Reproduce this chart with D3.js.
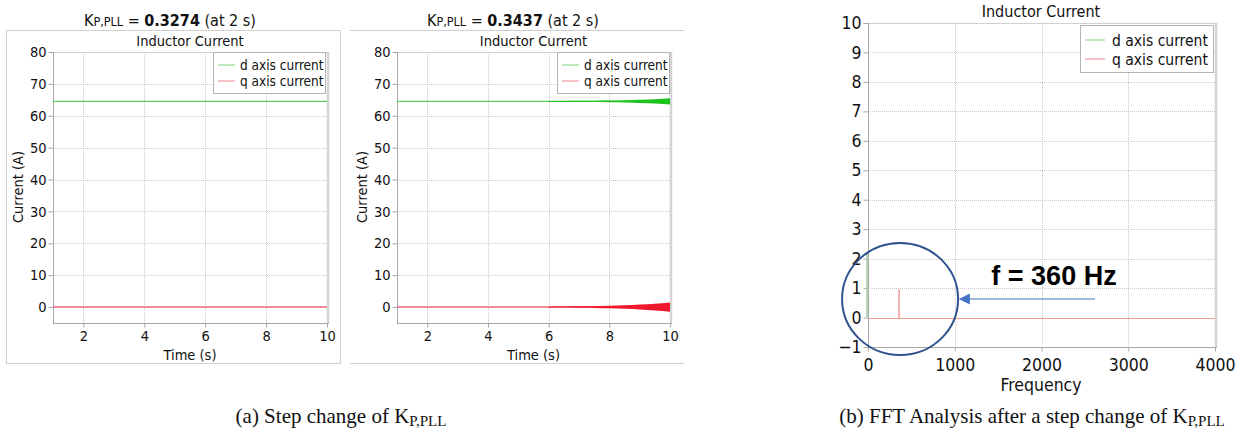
<!DOCTYPE html>
<html>
<head>
<meta charset="utf-8">
<script src="https://cdn.jsdelivr.net/npm/d3@7"></script>
<style>
  html, body { margin: 0; padding: 0; background: #ffffff; }
  svg { display: block; }
  .ui { font-family: "DejaVu Sans Condensed", "DejaVu Sans", sans-serif; font-stretch: condensed; fill: #111; }
  .cap { font-family: "Liberation Serif", "Times New Roman", serif; fill: #111; }
</style>
</head>
<body>
<svg id="chart" width="1235" height="433"></svg>
<script>
// ---- time-domain panels (inductor current in the dq frame) ----
const timeDomain = [1, 10];
const timeTicks = [2, 4, 6, 8, 10];
const currentDomain = [-5, 80];
const currentTicks = [0, 10, 20, 30, 40, 50, 60, 70, 80];
const seriesNames = ["d axis current", "q axis current"];

// steady-state levels [time, current]
const dCurrent = [[1, 64.5], [10, 64.5]];
const qCurrent = [[1, 0], [10, 0]];

// oscillation envelope (± amplitude) after the gain step, K = 0.3437
const envTime = [6, 6.5, 7, 7.5, 8, 8.5, 9, 9.5, 10];
const dEnvelope = [0, 0.01, 0.03, 0.06, 0.12, 0.2, 0.33, 0.52, 0.8];
const qEnvelope = [0, 0.02, 0.06, 0.13, 0.25, 0.4, 0.62, 0.92, 1.3];

const gainValues = ["0.3274", "0.3437"];

// ---- FFT panel ----
const freqDomain = [0, 4000];
const freqTicks = [0, 1000, 2000, 3000, 4000];
const magDomain = [-1, 10];
const magTicks = [-1, 0, 1, 2, 3, 4, 5, 6, 7, 8, 9, 10];
const dSpectrum = [[0, 2.2], [0, 0]];
const qSpectrum = [[0, 0], [357, 0], [358, 0.98], [359, 0], [4000, 0]];
const peakFrequency = 360;

const colD = "#5ccf5c", colQ = "#f06a7c";
const colDband = "#1ec41e", colQband = "#f0182c";

const svg = d3.select("#chart");

function drawPlot(cfg) {
  const g = svg.append("g");
  const x = d3.scaleLinear().domain(cfg.xDomain).range([cfg.left, cfg.right]);
  const y = d3.scaleLinear().domain(cfg.yDomain).range([cfg.bottom, cfg.top]);

  // dotted grid
  g.append("g").selectAll("line").data(cfg.yTicks).join("line")
    .attr("x1", cfg.left).attr("x2", cfg.right)
    .attr("y1", d => Math.round(y(d)) + 0.5).attr("y2", d => Math.round(y(d)) + 0.5)
    .attr("stroke", "#c8c8c8").attr("stroke-dasharray", "1,1");
  g.append("g").selectAll("line").data(cfg.xTicks).join("line")
    .attr("y1", cfg.top).attr("y2", cfg.bottom)
    .attr("x1", d => Math.round(x(d)) + 0.5).attr("x2", d => Math.round(x(d)) + 0.5)
    .attr("stroke", "#c8c8c8").attr("stroke-dasharray", "1,1");

  // top and right borders
  g.append("line").attr("x1", cfg.left).attr("x2", cfg.right)
    .attr("y1", cfg.top + 0.5).attr("y2", cfg.top + 0.5).attr("stroke", "#d0d0d0");
  g.append("line").attr("x1", cfg.right + 1).attr("x2", cfg.right + 1)
    .attr("y1", cfg.top).attr("y2", cfg.bottom).attr("stroke", "#d4d4d4").attr("stroke-width", 2.5);

  // axes
  const yAxis = d3.axisLeft(y).tickValues(cfg.yTicks).tickSize(5).tickPadding(2).tickFormat(d3.format("d"));
  const xAxis = d3.axisBottom(x).tickValues(cfg.xTicks).tickSize(4).tickPadding(cfg.xPad || 3).tickFormat(d3.format("d"));
  const ya = g.append("g").attr("transform", `translate(${cfg.left + 0.5},0)`).call(yAxis);
  const xa = g.append("g").attr("transform", `translate(0,${cfg.bottom + 0.5})`).call(xAxis);
  [ya, xa].forEach(a => {
    a.select(".domain").attr("stroke", "#a8a8a8");
    a.selectAll(".tick line").attr("stroke", "#a8a8a8");
    a.selectAll(".tick text").attr("class", "ui").attr("font-size", cfg.tickSize)
      .attr("fill", "#111");
  });
  ya.select(".domain").attr("d", `M-0,${cfg.top}V${cfg.bottom}`);
  xa.select(".domain").attr("d", `M${cfg.left},0H${cfg.right + 2}`);

  // series
  const series = g.append("g").attr("class", "series");
  cfg.series.forEach(s => {
    // optional pixel snapping keeps thin spectrum lines crisp
    const line = d3.line().x(d => x(d[0]))
      .y(d => s.snap ? Math.round(y(d[1])) + 0.5 : y(d[1]));
    series.append("path").attr("d", line(s.data)).attr("fill", "none")
      .attr("stroke", s.color).attr("stroke-width", s.width || 1.4)
      .attr("transform", s.dx ? `translate(${s.dx},0)` : null);
    if (s.band) {
      const rows = s.band.time.map((t, i) => [t, s.band.amp[i]]);
      const area = d3.area().x(d => x(d[0]))
        .y0(d => y(s.level - d[1]) + 0.5).y1(d => y(s.level + d[1]) - 0.5)
        .curve(d3.curveMonotoneX);
      series.append("path").attr("d", area(rows)).attr("fill", s.bandColor);
    }
  });

  // title
  g.append("text").attr("class", "ui").attr("x", cfg.titleX).attr("y", cfg.titleY)
    .attr("text-anchor", "middle").attr("font-size", cfg.titleSize).text("Inductor Current");

  // legend
  const L = cfg.legend;
  g.append("rect").attr("x", L.x + 0.5).attr("y", L.y + 0.5).attr("width", L.w).attr("height", L.h)
    .attr("fill", "#fff").attr("stroke", "#b4b4b4");
  seriesNames.forEach((name, i) => {
    const yy = L.y + L.row0 + i * L.rowH;
    g.append("line").attr("x1", L.x + L.sx0).attr("x2", L.x + L.sx1)
      .attr("y1", yy).attr("y2", yy).attr("stroke", i === 0 ? "#9ade9a" : "#f4a0aa").attr("stroke-width", 1.3);
    g.append("text").attr("class", "ui").attr("x", L.x + L.tx).attr("y", yy + L.size * 0.36)
      .attr("font-size", L.size).text(name);
  });
  return { g, x, y };
}

// ---------- panels (a) ----------
const panels = [
  { left: 53, right: 327, frame: [6.5, 30.5, 340.5, 363.5], frameSides: true, cx: 170, legendX: 213, gain: gainValues[0], grow: false },
  { left: 397, right: 670, frame: [350, 30.5, 684, 363.5], frameSides: false, cx: 513, legendX: 557, gain: gainValues[1], grow: true }
];

panels.forEach(p => {
  const [fx0, fy0, fx1, fy1] = p.frame;
  if (p.frameSides) {
    svg.append("rect").attr("x", fx0).attr("y", fy0).attr("width", fx1 - fx0).attr("height", fy1 - fy0)
      .attr("fill", "none").attr("stroke", "#cfcfcf");
  } else {
    [fy0, fy1].forEach(yy => svg.append("line").attr("x1", fx0).attr("x2", fx1)
      .attr("y1", yy).attr("y2", yy).attr("stroke", "#cfcfcf"));
  }

  const series = [
    { data: dCurrent, color: colD, level: dCurrent[0][1],
      band: p.grow ? { time: envTime, amp: dEnvelope } : null, bandColor: colDband },
    { data: qCurrent, color: colQ, level: qCurrent[0][1],
      band: p.grow ? { time: envTime, amp: qEnvelope } : null, bandColor: colQband }
  ];

  const mid = (p.left + p.right) / 2;
  drawPlot({
    xDomain: timeDomain, yDomain: currentDomain, xTicks: timeTicks, yTicks: currentTicks,
    left: p.left, right: p.right, top: 52, bottom: 323,
    tickSize: 14.5, titleSize: 14.5, titleX: mid, titleY: 46,
    series,
    legend: { x: p.legendX, y: 52, w: 112, h: 41, row0: 13, rowH: 16, sx0: 5, sx1: 22, tx: 27, size: 13.5 }
  });

  // axis titles
  svg.append("text").attr("class", "ui").attr("font-size", 14.5).attr("text-anchor", "middle")
    .attr("transform", `translate(${p.left - 30},187) rotate(-90)`).text("Current (A)");
  svg.append("text").attr("class", "ui").attr("font-size", 14.5).attr("text-anchor", "middle")
    .attr("x", mid).attr("y", 360).text("Time (s)");

  // headline with the PLL gain
  const h = svg.append("text").attr("class", "ui").attr("x", p.cx).attr("y", 26)
    .attr("text-anchor", "middle").attr("font-size", 16);
  h.append("tspan").text("K");
  h.append("tspan").text("P,PLL").attr("font-size", 12.5);
  h.append("tspan").text(" = ");
  h.append("tspan").text(p.gain).attr("font-weight", "bold");
  h.append("tspan").text(" (at 2 s)");
});

// ---------- panel (b): FFT ----------
const fft = drawPlot({
  xDomain: freqDomain, yDomain: magDomain, xTicks: freqTicks, yTicks: magTicks,
  left: 868, right: 1215, top: 23, bottom: 347, xPad: 7,
  tickSize: 17.5, titleSize: 16, titleX: 1041, titleY: 17,
  series: [
    { data: qSpectrum, color: "#f29a9a", width: 1, snap: true },
    { data: dSpectrum, color: "#a8cca8", width: 1.6, dx: -1 }
  ],
  legend: { x: 1080, y: 25, w: 133, h: 47, row0: 15, rowH: 19, sx0: 5, sx1: 25, tx: 32, size: 15.5 }
});

svg.append("text").attr("class", "ui").attr("font-size", 17.5).attr("text-anchor", "middle")
  .attr("x", 1041).attr("y", 391).text("Frequency");

// annotation: circle round the peak, arrow and label
const peakX = fft.x(peakFrequency + 10);
svg.append("ellipse").attr("cx", peakX).attr("cy", 299).attr("rx", 58).attr("ry", 56)
  .attr("fill", "none").attr("stroke", "#2f528f").attr("stroke-width", 2);
// arrowhead: tip sits on the end of the line and points along it
svg.append("defs").append("marker").attr("id", "head").attr("viewBox", "0 0 10 10")
  .attr("refX", 9).attr("refY", 5).attr("markerWidth", 12).attr("markerHeight", 11)
  .attr("markerUnits", "userSpaceOnUse").attr("orient", "auto")
  .append("path").attr("d", "M0,0L10,5L0,10Z").attr("fill", "#4472c4");
svg.append("line").attr("x1", 1095).attr("x2", 960).attr("y1", 299).attr("y2", 299)
  .attr("stroke", "#4472c4").attr("stroke-width", 1.2).attr("marker-end", "url(#head)");
svg.append("text").attr("x", 1054).attr("y", 285).attr("text-anchor", "middle")
  .attr("font-family", "Liberation Sans, Arial, sans-serif").attr("font-weight", "bold")
  .attr("font-size", 27).attr("fill", "#000").text(`f = ${peakFrequency} Hz`);

// ---------- captions ----------
const capA = svg.append("text").attr("class", "cap").attr("x", 341).attr("y", 423)
  .attr("text-anchor", "middle").attr("font-size", 21);
capA.append("tspan").text("(a)  Step change of K");
capA.append("tspan").text("P,PLL").attr("font-size", 15).attr("dy", 3);

const capB = svg.append("text").attr("class", "cap").attr("x", 1032).attr("y", 423)
  .attr("text-anchor", "middle").attr("font-size", 21);
capB.append("tspan").text("(b)  FFT Analysis after a step change of K");
capB.append("tspan").text("P,PLL").attr("font-size", 15).attr("dy", 3);
</script>
</body>
</html>
